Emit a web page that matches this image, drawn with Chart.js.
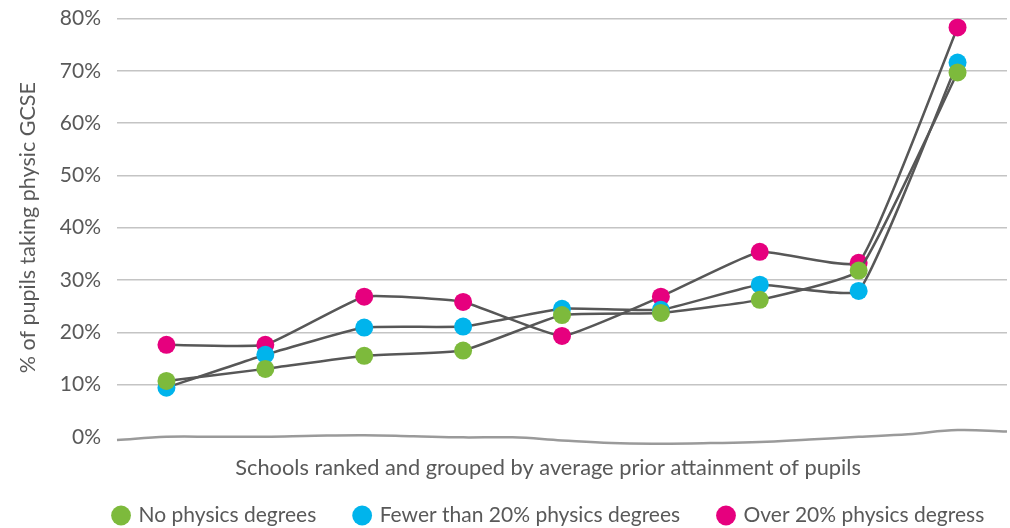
<!DOCTYPE html>
<html>
<head>
<meta charset="utf-8">
<script src="https://cdn.jsdelivr.net/npm/chart.js@4"></script>
<style>
  body { margin: 0; background: #fff; overflow: hidden; }
  /* сверху Chart.js оставляет лишнее место -- поднимаем холст */
  #myChart { display: block; margin-top: -10px; }
</style>
</head>
<body>
<canvas id="myChart" width="1010" height="538"></canvas>
<script>
// группы школ (1 -- самые слабые, 9 -- самые сильные)
const groups = [1, 2, 3, 4, 5, 6, 7, 8, 9]
const seriesNames = ['No physics degrees', 'Fewer than 20% physics degrees', 'Over 20% physics degress']
const seriesColors = ['#7dba3c', '#00b4ec', '#e6007e']

const noDegrees = [10.7, 13.0, 15.5, 16.5, 23.3, 23.7, 26.2, 31.8, 69.7]
const fewerThan20 = [9.4, 15.7, 20.9, 21.1, 24.5, 24.3, 29.1, 27.9, 71.6]
const over20 = [17.6, 17.6, 26.8, 25.8, 19.3, 26.8, 35.4, 33.3, 78.3]

// волнистая линия внизу (ось)
const baseX = [0.5, 1, 1.5, 2, 2.5, 3, 3.5, 4, 4.5, 5, 5.5, 6, 6.5, 7, 7.5, 8, 8.5, 9, 9.5]
const baseY = [-0.6, 0, 0, 0, 0.2, 0.3, 0.1, -0.1, -0.1, -0.7, -1.2, -1.3, -1.2, -1.0, -0.5, 0, 0.5, 1.3, 1.0]

const yTicks = [0, 10, 20, 30, 40, 50, 60, 70, 80]

const fontFamily = 'Lato, "Open Sans", sans-serif'
const textColor = '#595959'

function makeSeries(values, i) {
    return {
        label: seriesNames[i],
        data: values.map((v, k) => ({x: groups[k], y: v})),
        borderColor: '#575757',
        borderWidth: 2.5,
        backgroundColor: seriesColors[i],
        pointBackgroundColor: seriesColors[i],
        pointBorderWidth: 0,
        pointRadius: 9,
        pointHoverRadius: 9,
        tension: 0.12
    }
}

let ctx = document.getElementById('myChart').getContext('2d')
let chart = new Chart(ctx, {
    type: 'line',
    data: {
        datasets: [
            makeSeries(noDegrees, 0),
            makeSeries(fewerThan20, 1),
            makeSeries(over20, 2),
            {
                label: 'base',
                data: baseX.map((x, k) => ({x: x, y: baseY[k]})),
                borderColor: '#9a9a9a',
                borderWidth: 2.5,
                pointRadius: 0,
                tension: 0.4,
                clip: false
            }
        ]
    },
    options: {
        responsive: false,
        animation: false,
        layout: {autoPadding: false, padding: {top: 0, right: 3, left: 15, bottom: -8}},
        plugins: {
            tooltip: {enabled: false},
            legend: {
                position: 'bottom',
                align: 'end',
                labels: {
                    usePointStyle: true,
                    pointStyle: 'circle',
                    boxWidth: 14,
                    boxHeight: 14,
                    padding: 12,
                    color: textColor,
                    font: {family: fontFamily, size: 21},
                    // пробелы в конце -- чтобы раздвинуть пункты легенды
                    generateLabels: c => c.data.datasets.slice(0, 3).map((d, i) => ({
                        text: d.label + (i < 2 ? '     ' : '  '),
                        fillStyle: seriesColors[i],
                        strokeStyle: seriesColors[i],
                        lineWidth: 0,
                        pointStyle: 'circle',
                        fontColor: textColor,
                        datasetIndex: i
                    }))
                }
            }
        },
        scales: {
            x: {
                type: 'linear',
                min: 0.5,
                max: 9.5,
                grid: {display: false, drawTicks: false},
                border: {display: false},
                ticks: {display: false},
                title: {
                    display: true,
                    text: 'Schools ranked and grouped by average prior attainment of pupils     ',
                    color: textColor,
                    font: {family: fontFamily, size: 21.8},
                    padding: {top: 18, bottom: 12}
                }
            },
            y: {
                min: 0,
                max: 80,
                afterBuildTicks: axis => { axis.ticks = yTicks.map(v => ({value: v})) },
                grid: {
                    color: c => c.tick.value === 0 ? 'rgba(0,0,0,0)' : '#c4c4c4',
                    lineWidth: 1.5,
                    drawTicks: false
                },
                border: {display: false},
                ticks: {
                    color: textColor,
                    padding: 16,
                    font: {family: fontFamily, size: 21},
                    callback: v => v + '%'
                },
                title: {
                    display: true,
                    text: '% of pupils taking physic GCSE',
                    color: textColor,
                    font: {family: fontFamily, size: 21.5},
                    padding: {top: 0, bottom: 3}
                }
            }
        }
    }
})
</script>
</body>
</html>
